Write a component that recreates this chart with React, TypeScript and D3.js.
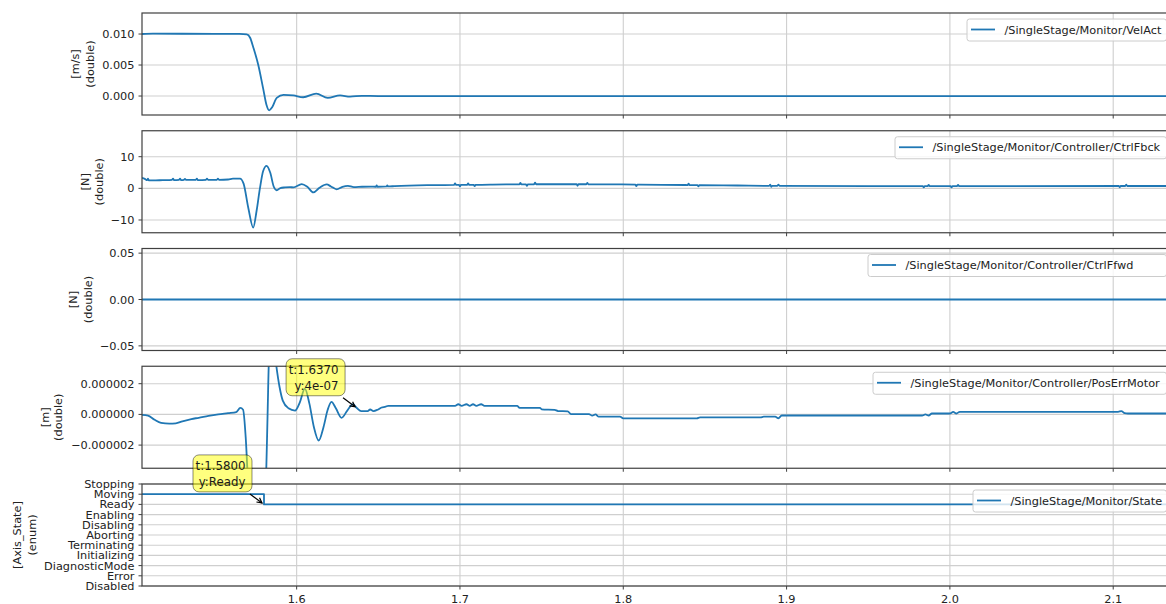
import React from 'react';
import * as d3 from 'd3';

// ---------------- data ----------------
const xTickValues = [1.6, 1.7, 1.8, 1.9, 2.0, 2.1];
const stateCategories = ['Disabled', 'Error', 'DiagnosticMode', 'Initializing', 'Terminating', 'Aborting', 'Disabling', 'Enabling', 'Ready', 'Moving', 'Stopping'];

const velAct: [number, number][] = [
  [1.5053, 0.01], [1.512, 0.01005], [1.53, 0.01004], [1.55, 0.01002], [1.565, 0.01001], [1.5695, 0.00995],
  [1.5715, 0.0094], [1.5735, 0.0078], [1.5765, 0.005], [1.5795, 0.0012], [1.5815, -0.0014], [1.5832, -0.0023],
  [1.585, -0.0018], [1.5878, -0.0003], [1.592, 0.0002], [1.598, 0.0001], [1.604, -0.0002], [1.612, 0.0004],
  [1.619, -0.0003], [1.6266, 0.0001], [1.6327, -0.0001], [1.64, 0.00004], [1.65, 0], [2.14, 0],
];

const ctrlFbck: [number, number][] = [
  [1.5053, 3.3], [1.507, 3.0], [1.5085, 2.6], [1.509, 3.1], [1.5095, 2.5], [1.512, 2.5], [1.518, 2.6],
  [1.5237, 2.7], [1.5243, 3.1], [1.5249, 2.6], [1.528, 2.7], [1.5286, 3.1], [1.5292, 2.6], [1.531, 2.7],
  [1.5316, 3.0], [1.5322, 2.7], [1.5383, 2.7], [1.5389, 3.1], [1.5395, 2.6], [1.5445, 2.7], [1.5451, 3.1],
  [1.5457, 2.7], [1.5512, 2.7], [1.5518, 3.1], [1.5524, 2.7], [1.558, 2.8], [1.561, 3.1], [1.5653, 3.1],
  [1.5675, 1.5], [1.5704, -6.2], [1.5734, -12.4], [1.5755, -7], [1.5775, 0], [1.5795, 5.5], [1.5816, 7.1],
  [1.5838, 5.0], [1.586, 0.5], [1.5878, -0.6], [1.59, 0.1], [1.5928, 0.3], [1.596, 0.4], [1.598, 0.3],
  [1.6031, 1.35], [1.6065, 0.5], [1.6102, -1.3], [1.614, 0.2], [1.6184, 1.25], [1.621, 0.6], [1.6245, -0.3],
  [1.628, 0.5], [1.6314, 0.8], [1.635, 0.4], [1.64, 0.5], [1.645, 0.55], [1.6485, 0.5], [1.649, 0.9],
  [1.6495, 0.5], [1.655, 0.6], [1.6555, 0.9], [1.656, 0.6], [1.66, 0.7], [1.68, 1.0], [1.6964, 1.1],
  [1.697, 1.6], [1.6976, 1.1], [1.6994, 1.1], [1.7, 0.6], [1.7006, 1.1], [1.7044, 1.1], [1.705, 1.6],
  [1.7056, 1.1], [1.7084, 1.1], [1.709, 0.7], [1.7096, 1.1], [1.72, 1.2], [1.7364, 1.25], [1.737, 1.7],
  [1.7376, 1.25], [1.7404, 1.25], [1.741, 0.8], [1.7416, 1.25], [1.7454, 1.3], [1.746, 1.8], [1.7466, 1.3],
  [1.76, 1.3], [1.7714, 1.3], [1.772, 0.8], [1.7726, 1.3], [1.7774, 1.3], [1.778, 1.7], [1.7786, 1.3],
  [1.8074, 1.2], [1.808, 0.7], [1.8086, 1.2], [1.8394, 1.05], [1.84, 1.5], [1.8406, 1.05], [1.8454, 1.05],
  [1.846, 0.6], [1.8466, 1.0], [1.87, 0.9], [1.8894, 0.8], [1.89, 1.2], [1.8906, 0.5], [1.8912, 0.8],
  [1.8944, 0.8], [1.895, 1.2], [1.8956, 0.8], [1.95, 0.7], [1.9834, 0.7], [1.984, 0.3], [1.9846, 0.7],
  [1.9864, 0.7], [1.987, 1.1], [1.9876, 0.7], [2.0004, 0.7], [2.001, 0.3], [2.0016, 0.7], [2.0044, 0.7],
  [2.005, 1.1], [2.0056, 0.7], [2.1034, 0.75], [2.104, 0.35], [2.1046, 0.75], [2.1074, 0.75], [2.108, 1.15],
  [2.1086, 0.75], [2.14, 0.75],
];

const ctrlFfwd: [number, number][] = [[1.5053, 0], [2.14, 0]];

// position error, in micrometres
const posErrMotorMicro: [number, number][] = [
  [1.5053, -0.03], [1.509, -0.08], [1.513, -0.35], [1.517, -0.55], [1.522, -0.6], [1.526, -0.58], [1.53, -0.45],
  [1.5355, -0.3], [1.54, -0.22], [1.546, -0.1], [1.552, 0.0], [1.558, 0.08], [1.563, 0.15], [1.5655, 0.42],
  [1.5672, 0.3], [1.5688, -1.5], [1.5705, -5], [1.575, -9], [1.58, -6], [1.5813, -4], [1.5822, 0], [1.5832, 4],
  [1.5855, 5], [1.5875, 3.2], [1.5895, 1.8], [1.5915, 0.9], [1.595, 0.4], [1.599, 0.25], [1.602, 0.8],
  [1.605, 1.68], [1.6078, 0.7], [1.6105, -0.8], [1.6135, -1.7], [1.6165, -0.8], [1.619, 0.3], [1.6213, 0.82],
  [1.624, 0.4], [1.6275, -0.22], [1.631, 0.25], [1.6345, 0.67], [1.637, 0.4], [1.6395, 0.22], [1.6435, 0.22],
  [1.645, 0.32], [1.647, 0.22], [1.6495, 0.3], [1.652, 0.45], [1.6545, 0.5], [1.656, 0.56], [1.697, 0.56],
  [1.699, 0.66], [1.701, 0.56], [1.704, 0.66], [1.706, 0.56], [1.708, 0.66], [1.71, 0.56], [1.713, 0.66],
  [1.715, 0.56], [1.735, 0.56], [1.7365, 0.43], [1.749, 0.43], [1.75, 0.33], [1.758, 0.3], [1.76, 0.22],
  [1.766, 0.2], [1.768, 0.02], [1.779, 0.02], [1.781, -0.08], [1.783, 0.0], [1.785, -0.15], [1.798, -0.15],
  [1.8, -0.26], [1.845, -0.26], [1.847, -0.2], [1.884, -0.2], [1.886, -0.15], [1.893, -0.15], [1.895, -0.25],
  [1.897, -0.07], [1.983, -0.07], [1.985, 0.0], [1.987, -0.07], [1.989, 0.06], [2.0, 0.06], [2.002, 0.16],
  [2.004, 0.06], [2.006, 0.17], [2.103, 0.17], [2.105, 0.22], [2.107, 0.08], [2.109, 0.06], [2.14, 0.06],
];

const stateSeries: [number, string][] = [[1.5053, 'Moving'], [1.58, 'Ready'], [2.14, 'Ready']];

const velTicks = [0, 0.005, 0.01];
const fbckTicks = [-10, 0, 10];
const ffwdTicks = [-0.05, 0, 0.05];
const posErrTicksMicro = [-2, 0, 2];

const seriesNames = [
  '/SingleStage/Monitor/VelAct',
  '/SingleStage/Monitor/Controller/CtrlFbck',
  '/SingleStage/Monitor/Controller/CtrlFfwd',
  '/SingleStage/Monitor/Controller/PosErrMotor',
  '/SingleStage/Monitor/State',
];
const unitLabels = [['[m/s]', '(double)'], ['[N]', '(double)'], ['[N]', '(double)'], ['[m]', '(double)'], ['[Axis_State]', '(enum)']];

const annotationTimes = [1.637, 1.58];
const annotationTexts = [['t:1.6370', 'y:4e-07'], ['t:1.5800', 'y:Ready']];

// ---------------- layout / style ----------------
const W = 1166, H = 604;
const LEFT = 142, RIGHT = 1172;
const TOP0 = 13, STEP = 117.75, PH = 102;
const FONT = '"DejaVu Sans", Verdana, sans-serif';
const BLUE = '#1f77b4';
const GRID = '#cfcfcf';
const SPINE = '#404040';
const TXT = '#222';

const minus = (s: string) => s.replace('-', '\u2212');

const x = d3.scaleLinear().domain([1.5053, 2.136]).range([LEFT, RIGHT]);

type PanelCfg = {
  data: [number, number][];
  domain: [number, number];
  ticks: number[];
  fmt: (v: number) => string;
  labelX: [number, number];
  legendLeft: number;
  curve: d3.CurveFactory;
};

const stateIndex = (s: string) => stateCategories.indexOf(s);

const panels: PanelCfg[] = [
  { data: velAct, domain: [-0.00306, 0.01339], ticks: velTicks, fmt: v => minus(v.toFixed(3)), labelX: [75.5, 90], legendLeft: 967, curve: d3.curveMonotoneX },
  { data: ctrlFbck, domain: [-14.03, 18.2], ticks: fbckTicks, fmt: v => minus(String(v)), labelX: [85.8, 99], legendLeft: 895, curve: d3.curveMonotoneX },
  { data: ctrlFfwd, domain: [-0.055, 0.055], ticks: ffwdTicks, fmt: v => minus(v.toFixed(2)), labelX: [73, 88], legendLeft: 868, curve: d3.curveLinear },
  { data: posErrMotorMicro, domain: [-3.508, 3.137], ticks: posErrTicksMicro, fmt: v => minus((v * 1e-6).toFixed(6)), labelX: [45, 58], legendLeft: 873, curve: d3.curveMonotoneX },
  { data: stateSeries.map(d => [d[0], stateIndex(d[1])] as [number, number]), domain: [0, 10], ticks: stateCategories.map((_, i) => i), fmt: v => stateCategories[v], labelX: [17.5, 32], legendLeft: 973, curve: d3.curveStepAfter },
];

const annotationValues = [
  { panel: 3, value: 0.4 },
  { panel: 4, value: stateIndex('Ready') },
];

export default function App() {
  const top = (i: number) => TOP0 + i * STEP;
  const yScales = panels.map((p, i) => d3.scaleLinear().domain(p.domain).range([top(i) + PH, top(i)]));

  return (
    <svg width={W} height={H} viewBox={`0 0 ${W} ${H}`} style={{ position: 'absolute', left: 0, top: 0, background: '#fff', overflow: 'hidden' }} fontFamily={FONT}>
      <rect x={0} y={0} width={W} height={H} fill="#fff" />
      <defs>
        {panels.map((_, i) => (
          <clipPath id={`clip${i}`} key={i}>
            <rect x={LEFT} y={top(i)} width={RIGHT - LEFT} height={PH} />
          </clipPath>
        ))}
      </defs>
      {panels.map((p, i) => {
        const y = yScales[i];
        const t0 = top(i);
        const line = d3.line<[number, number]>().x(d => x(d[0])).y(d => y(d[1])).curve(p.curve);
        const isLast = i === panels.length - 1;
        const cy = t0 + PH / 2;
        const fs = 11.3;
        return (
          <g key={i}>
            {xTickValues.map(t => (
              <line key={'gx' + t} x1={x(t)} x2={x(t)} y1={t0} y2={t0 + PH} stroke={GRID} strokeWidth={1.1} />
            ))}
            {p.ticks.map(v => (
              <line key={'gy' + v} x1={LEFT} x2={RIGHT} y1={y(v)} y2={y(v)} stroke={GRID} strokeWidth={1.1} />
            ))}
            <path d={line(p.data) || ''} fill="none" stroke={BLUE} strokeWidth={1.8} clipPath={`url(#clip${i})`} strokeLinejoin="round" />
            <rect x={LEFT} y={t0} width={RIGHT - LEFT} height={PH} fill="none" stroke={SPINE} strokeWidth={1.2} />
            {p.ticks.map(v => (
              <g key={'ty' + v}>
                <line x1={LEFT - 3.5} x2={LEFT} y1={y(v)} y2={y(v)} stroke={SPINE} strokeWidth={1} />
                <text x={LEFT - 7.5} y={y(v)} dy="0.36em" textAnchor="end" fontSize={fs} fill={TXT}>{p.fmt(v)}</text>
              </g>
            ))}
            {xTickValues.map(t => (
              <g key={'tx' + t}>
                <line x1={x(t)} x2={x(t)} y1={t0 + PH} y2={t0 + PH + 3.5} stroke={SPINE} strokeWidth={1} />
                {isLast && (
                  <text x={x(t)} y={602.5} textAnchor="middle" fontSize={fs} fill={TXT}>{t.toFixed(1)}</text>
                )}
              </g>
            ))}
            {unitLabels[i].map((s, k) => (
              <text key={'yl' + k} transform={`translate(${p.labelX[k]},${cy}) rotate(-90)`} textAnchor="middle" dominantBaseline="central" fontSize={fs} fill={TXT}>{s}</text>
            ))}
            <g>
              <rect x={p.legendLeft} y={t0 + 6} width={RIGHT - 5.5 - p.legendLeft} height={22} rx={2.5} fill="#fff" fillOpacity={0.8} stroke="#cccccc" strokeWidth={1} />
              <line x1={p.legendLeft + 4} x2={p.legendLeft + 28} y1={t0 + 16.5} y2={t0 + 16.5} stroke={BLUE} strokeWidth={1.8} />
              <text x={p.legendLeft + 37.5} y={t0 + 20.5} fontSize={11.3} fill={TXT}>{seriesNames[i]}</text>
            </g>
          </g>
        );
      })}
      {annotationValues.map((a, k) => {
        const px = x(annotationTimes[k]);
        const py = yScales[a.panel](a.value);
        const bw = 59, bh = 37;
        const cx = px - 41.5, cy = py - 31;
        const bx = cx - bw / 2, by = cy - bh / 2;
        const dx = px - cx, dy = py - cy;
        const s = Math.min((bw / 2 + 2) / Math.abs(dx), (bh / 2 + 2) / Math.abs(dy));
        const sx = cx + dx * s, sy = cy + dy * s;
        const len = Math.hypot(px - sx, py - sy);
        const ux = (px - sx) / len, uy = (py - sy) / len;
        const ex = px - ux * 2.5, ey = py - uy * 2.5;
        const hl = 5, hw = 2.6;
        const h1x = ex - ux * hl - uy * hw, h1y = ey - uy * hl + ux * hw;
        const h2x = ex - ux * hl + uy * hw, h2y = ey - uy * hl - ux * hw;
        return (
          <g key={'an' + k}>
            <rect x={bx} y={by} width={bw} height={bh} rx={6} fill="#ffff00" fillOpacity={0.5} stroke="#000" strokeOpacity={0.45} strokeWidth={1} />
            {annotationTexts[k].map((s2, j) => (
              <text key={j} x={bx + bw - 6.5} y={by + 15 + j * 16.5} textAnchor="end" fontSize={11.8} fill="#1a1a1a">{s2}</text>
            ))}
            <line x1={sx} y1={sy} x2={ex} y2={ey} stroke="#000" strokeWidth={1.2} />
            <path d={`M${h1x},${h1y}L${ex},${ey}L${h2x},${h2y}`} fill="none" stroke="#000" strokeWidth={1.2} />
          </g>
        );
      })}
    </svg>
  );
}
